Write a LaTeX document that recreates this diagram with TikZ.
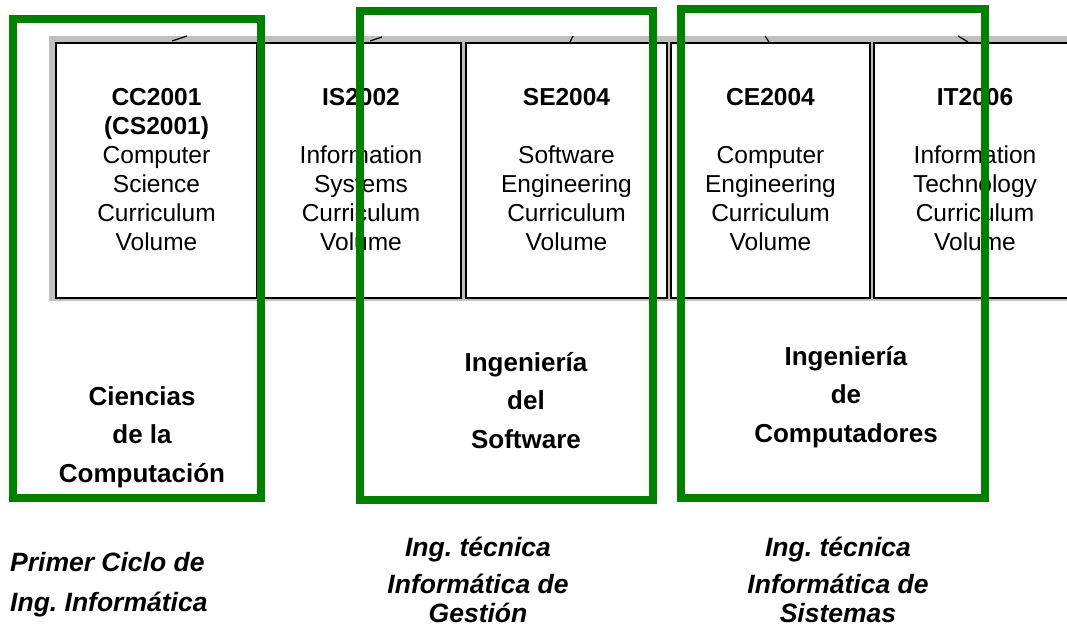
\documentclass[tikz,border=0pt]{standalone}
\usepackage{fontspec}
\setmainfont{Liberation Sans}
\usepackage{tikz}
\usetikzlibrary{positioning}
\frenchspacing

\begin{document}
\begin{tikzpicture}[x=1pt, y=-1pt,
        panel/.style={fill=black!25, draw=none},
        volume/.style={rectangle, draw=black, fill=white, line width=2pt, anchor=north west, inner sep=0pt, minimum height=255pt},
        voltext/.style={align=center, inner sep=0pt, font=\fontsize{24.5}{29}\selectfont},
        grade/.style={draw=green!50!black, line width=8pt},
        gradetext/.style={align=center, anchor=north, inner sep=0pt, font=\fontsize{26}{38.5}\selectfont\bfseries},
        degree/.style={align=center, anchor=north, inner sep=0pt, font=\fontsize{26.5}{29}\selectfont\bfseries\itshape},
        arcbit/.style={line width=1.2pt}
      ]
        \useasboundingbox (0,0) rectangle (1067,628);
        \clip (0,0) rectangle (1067,628);
        \fill[panel] (49,36) rectangle (1080,301);

        \draw[arcbit] (172,41) -- (187,36);
        \draw[arcbit] (370,41) -- (382,37);
        \draw[arcbit] (570,42) -- (573,36);
        \draw[arcbit] (765,36) -- (769,42);
        \draw[arcbit] (958,36) -- (968,42);

        \node[volume, minimum width=201pt]  (cc)  at(55, 42)   {};
        \node[volume, minimum width=200pt]  (is)  at(260, 42)  {};
        \node[volume, minimum width=201pt]  (se)  at(465, 42)  {};
        \node[volume, minimum width=199pt]  (ce)  at(670, 42)  {};
        \node[volume, minimum width=202pt]  (it)  at(873, 42)  {};

        \node[voltext, below=46pt of cc.north]  (cctext)  {\textbf{CC2001}\\\textbf{(CS2001)}\\Computer\\Science\\Curriculum\\Volume};
        \node[voltext, below=46pt of is.north]  (istext)  {\textbf{IS2002}\\[29pt]Information\\Systems\\Curriculum\\Volume};
        \node[voltext, below=46pt of se.north]  (setext)  {\textbf{SE2004}\\[29pt]Software\\Engineering\\Curriculum\\Volume};
        \node[voltext, below=46pt of ce.north]  (cetext)  {\textbf{CE2004}\\[29pt]Computer\\Engineering\\Curriculum\\Volume};
        \node[voltext, below=46pt of it.north]  (ittext)  {\textbf{IT2006}\\[29pt]Information\\Technology\\Curriculum\\Volume};

        \draw[grade] (13,19) rectangle (261,498);
        \draw[grade] (360,11) rectangle (653,500);
        \draw[grade] (681,9) rectangle (985,498);

        \node[gradetext]  (cs)  at(142, 386)  {Ciencias\\de la\\Computación};
        \node[gradetext]  (sw)  at(526, 352)  {Ingeniería\\del\\Software};
        \node[gradetext]  (hw)  at(846, 346)  {Ingeniería\\de\\Computadores};

        \node[degree, align=left, anchor=north west, font=\fontsize{26.5}{40}\selectfont\bfseries\itshape]  (first)  at(10, 552)  {Primer Ciclo de\\Ing. Informática};
        \node[degree]  (gestion)   at(478, 537)  {Ing. técnica\\[8pt]Informática de\\Gestión};
        \node[degree]  (sistemas)  at(838, 537)  {Ing. técnica\\[8pt]Informática de\\Sistemas};
      \end{tikzpicture}
\end{document}
